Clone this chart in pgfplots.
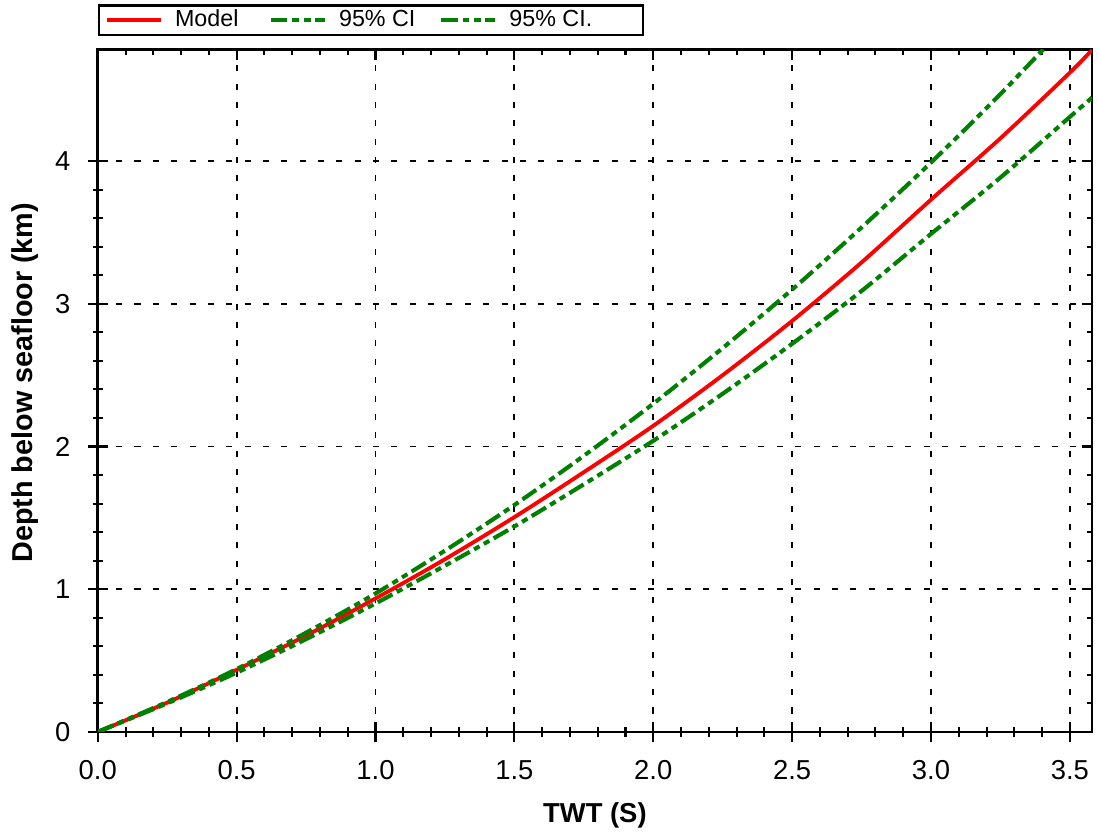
\documentclass[border=0pt]{standalone}
\usepackage{pgfplots}
\pgfplotsset{compat=1.18}
\usepackage{fontspec}
\setmainfont{Liberation Sans}
\definecolor{cigreen}{RGB}{0,128,0}
\definecolor{modelred}{RGB}{255,0,0}

\pgfplotstableread{
t d
0 0
0.25 0.205
0.5 0.435
0.75 0.675
1.0 0.935
1.25 1.21
1.5 1.505
1.75 1.82
2.0 2.145
2.25 2.50
2.5 2.88
2.75 3.29
3.0 3.73
3.25 4.16
3.5 4.62
3.58 4.78
}\modeltab

\pgfplotstableread{
t d
0 0
0.25 0.21
0.5 0.44
0.75 0.695
1.0 0.97
1.25 1.27
1.5 1.59
1.75 1.935
2.0 2.30
2.25 2.69
2.5 3.10
2.75 3.535
3.0 3.99
3.25 4.47
3.5 4.98
}\uppertab

\pgfplotstableread{
t d
0 0
0.25 0.20
0.5 0.415
0.75 0.65
1.0 0.90
1.25 1.165
1.5 1.44
1.75 1.735
2.0 2.04
2.25 2.37
2.5 2.72
2.75 3.09
3.0 3.49
3.25 3.885
3.5 4.31
3.58 4.445
}\lowertab

\begin{document}
\begin{tikzpicture}
% outer ticks on bottom and left
\begin{axis}[
  name=ticks,
  scale only axis, width=363pt, height=249pt,
  xmin=0, xmax=3.58, ymin=0, ymax=4.78,
  xtick={0,0.5,1,1.5,2,2.5,3,3.5}, ytick={0,1,2,3,4},
  minor x tick num=4, minor y tick num=4,
  axis x line*=bottom, axis y line*=left,
  axis line style={-, line width=1pt},
  tick align=outside,
  major tick length=3.6pt, minor tick length=1.8pt,
  every tick/.style={black, line width=0.75pt},
  xticklabels={}, yticklabels={},
]
\end{axis}
\begin{axis}[
  name=main,
  scale only axis, width=363pt, height=249pt,
  xmin=0, xmax=3.58, ymin=0, ymax=4.78,
  xtick={0,0.5,1,1.5,2,2.5,3,3.5}, ytick={0,1,2,3,4},
  minor x tick num=4, minor y tick num=4,
  tick align=inside,
  major tick length=3.6pt, minor tick length=1.8pt,
  every tick/.style={black, line width=0.75pt},
  axis line style={line width=1pt},
  grid=major,
  major grid style={black, line width=0.7pt, dash pattern=on 2.2pt off 4.5pt},
  font=\fontsize{10}{12}\selectfont,
  /pgf/number format/assume math mode=true,
  xticklabel style={/pgf/number format/fixed, /pgf/number format/fixed zerofill, /pgf/number format/precision=1, yshift=-6.9pt},
  yticklabel style={xshift=-6.5pt},
  xlabel={\bfseries TWT (S)},
  ylabel={\fontsize{10.5}{12}\selectfont\bfseries Depth below seafloor (km)},
  xlabel style={at={(axis description cs:0.5,-0.133)}, anchor=base},
  ylabel style={at={(axis description cs:-0.0653,0.512)}, anchor=base},
  legend columns=3,
  legend image code/.code={\draw[mark repeat=2,mark phase=2,#1] plot coordinates {(0pt,0pt) (9.85pt,0pt) (19.7pt,0pt)};},
  legend style={at={(axis description cs:0,1.0205)}, anchor=south west,
    draw=black, line width=0.8pt, fill=white,
    inner xsep=2.2pt, inner ysep=0.5pt,
    font=\fontsize{8.5}{10}\selectfont,
    nodes={inner xsep=2pt, inner ysep=1pt, text depth=0.15em},
    /tikz/every odd column/.append style={column sep=2.5pt},
    /tikz/every even column/.append style={column sep=0pt}},
]
\addplot[modelred, line width=1.4pt, smooth] table[x=t, y=d] {\modeltab};
\addlegendentry{\makebox[32.2pt][l]{Model}}
\addplot[cigreen, line width=1.5pt, smooth, dash pattern=on 6.1pt off 1.8pt on 2.3pt off 1.8pt on 2.3pt off 1.8pt] table[x=t, y=d] {\uppertab};
\addlegendentry{\makebox[34.5pt][l]{95\% CI}}
\addplot[cigreen, line width=1.5pt, smooth, dash pattern=on 6.1pt off 1.8pt on 2.3pt off 1.8pt on 2.3pt off 1.8pt] table[x=t, y=d] {\lowertab};
\addlegendentry{\makebox[44.5pt][l]{95\% CI.}}
\end{axis}
\path (main.south west) ++(-35.7pt,-35.7pt);
\path (main.north east) ++(1.1pt,18.2pt);
\end{tikzpicture}
\end{document}
